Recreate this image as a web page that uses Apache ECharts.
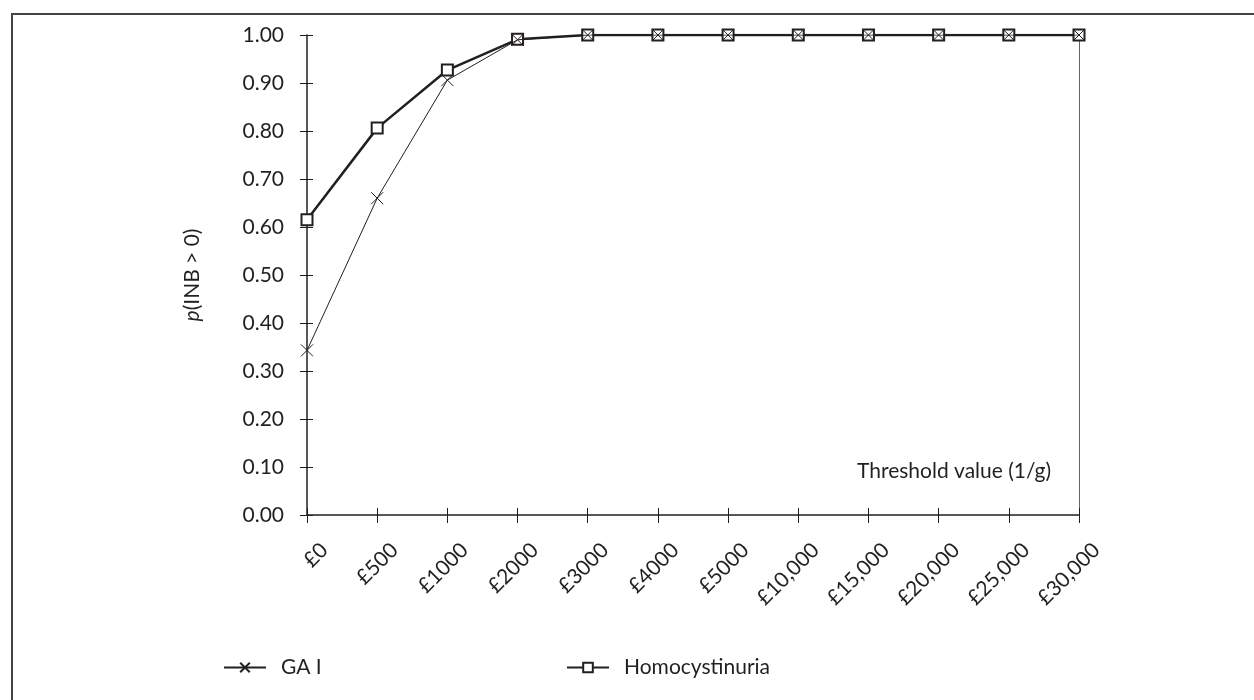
<!DOCTYPE html>
<html>
<head>
<meta charset="utf-8">
<script src="https://cdn.jsdelivr.net/npm/echarts@6/dist/echarts.min.js"></script>
<style>
  html, body { margin: 0; padding: 0; background: #fff; }
  #chart { width: 1254px; height: 700px; }
</style>
</head>
<body>
<div id="chart"></div>
<script>
var categories = ["£0", "£500", "£1000", "£2000", "£3000", "£4000", "£5000", "£10,000", "£15,000", "£20,000", "£25,000", "£30,000"];
var gaData = [0.343, 0.66, 0.906, 0.99, 1.0, 1.0, 1.0, 1.0, 1.0, 1.0, 1.0, 1.0];
var homoData = [0.615, 0.806, 0.927, 0.991, 1.0, 1.0, 1.0, 1.0, 1.0, 1.0, 1.0, 1.0];
var seriesNames = ["GA I", "Homocystinuria"];

var font = "Lato, 'Open Sans', sans-serif";
var ink = "#231f20";
var fs = 21;

var legendText = { fontFamily: font, fontSize: fs, color: ink, padding: [0, 0, 0, 10] };

var chart = echarts.init(document.getElementById("chart"));
chart.setOption({
  animation: false,
  backgroundColor: "#fff",
  textStyle: { fontFamily: font },
  grid: { left: 307, top: 35, right: 175, bottom: 185, containLabel: false },
  legend: [
    {
      data: [seriesNames[0]],
      left: 218,
      top: 652,
      itemWidth: 42,
      itemHeight: 12,
      textStyle: legendText
    },
    {
      data: [seriesNames[1]],
      left: 561,
      top: 652,
      itemWidth: 42,
      itemHeight: 12,
      textStyle: legendText
    }
  ],
  graphic: [
    {
      type: "polyline",
      shape: { points: [[12, 700], [12, 14], [1254, 14]] },
      style: { fill: "none", stroke: "#444", lineWidth: 2 }
    },
    {
      type: "text",
      x: 857,
      y: 461,
      style: { text: "Threshold value (1/g)", font: fs + "px " + font, fill: ink, verticalAlign: "top" }
    }
  ],
  xAxis: [
    {
      type: "category",
      data: categories,
      boundaryGap: false,
      axisLine: { lineStyle: { color: ink, width: 1.5 } },
      axisTick: { show: true, length: 8, alignWithLabel: true, lineStyle: { color: ink } },
      axisLabel: {
        rotate: 45,
        fontSize: fs,
        color: ink,
        margin: 34,
        verticalAlign: "top",
        padding: [0, -14, 0, 0],
        fontFamily: font
      }
    },
    {
      type: "category",
      data: categories,
      boundaryGap: false,
      position: "bottom",
      axisLine: { show: false },
      axisTick: { show: true, inside: true, length: 7, lineStyle: { color: ink } },
      axisLabel: { show: false }
    },
    {
      type: "category",
      data: categories,
      boundaryGap: false,
      position: "top",
      axisLine: { lineStyle: { color: "#555", width: 1 } },
      axisTick: { show: false },
      axisLabel: { show: false }
    }
  ],
  yAxis: [
    {
      type: "value",
      min: 0,
      max: 1,
      interval: 0.1,
      name: "{i|p}(INB > 0)",
      nameLocation: "middle",
      nameGap: 104,
      nameRotate: 90,
      nameTextStyle: {
        fontSize: fs,
        color: ink,
        fontFamily: font,
        rich: { i: { fontStyle: "italic", fontSize: fs, color: ink, fontFamily: font } }
      },
      axisLine: { show: true, lineStyle: { color: ink, width: 1.5 } },
      axisTick: { show: true, length: 7, lineStyle: { color: ink } },
      splitLine: { show: false },
      axisLabel: {
        fontSize: fs,
        color: ink,
        margin: 23,
        fontFamily: font,
        formatter: function (v) { return v.toFixed(2); }
      }
    },
    {
      type: "value",
      min: 0,
      max: 1,
      interval: 0.1,
      position: "left",
      axisLine: { show: false },
      axisTick: { show: true, inside: true, length: 6, lineStyle: { color: ink } },
      splitLine: { show: false },
      axisLabel: { show: false }
    },
    {
      type: "value",
      min: 0,
      max: 1,
      position: "right",
      axisLine: { show: true, lineStyle: { color: "#666", width: 1 } },
      axisTick: { show: false },
      splitLine: { show: false },
      axisLabel: { show: false }
    }
  ],
  series: [
    {
      name: seriesNames[0],
      type: "line",
      data: gaData,
      symbol: "path://M0,0L10,10M10,0L0,10",
      symbolSize: 12,
      showAllSymbol: true,
      lineStyle: { color: ink, width: 1 },
      itemStyle: { color: "none", borderColor: ink, borderWidth: 1 },
      z: 3
    },
    {
      name: seriesNames[1],
      type: "line",
      data: homoData,
      symbol: "emptyRect",
      symbolSize: 11,
      showAllSymbol: true,
      lineStyle: { color: ink, width: 2.5 },
      itemStyle: { color: ink, borderColor: ink, borderWidth: 2.5 },
      z: 2
    }
  ]
});
</script>
</body>
</html>
